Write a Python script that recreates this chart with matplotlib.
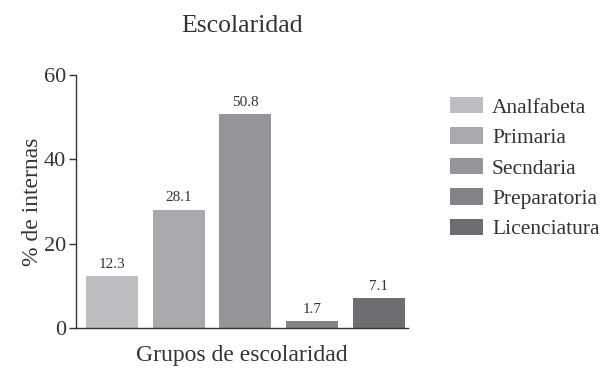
import matplotlib.pyplot as plt
from matplotlib.patches import Patch

# niveles de escolaridad y porcentaje de internas
niveles = ['Analfabeta', 'Primaria', 'Secndaria', 'Preparatoria', 'Licenciatura']
porcentajes = [12.3, 28.1, 50.8, 1.7, 7.1]
colores = ['#bdbec1', '#a8a9ac', '#949598', '#828386', '#6d6e71']
yticks = [0, 20, 40, 60]

plt.rcParams['font.family'] = ['Liberation Serif', 'DejaVu Serif']

fig = plt.figure(figsize=(6, 3.7), dpi=100)
ax = fig.add_axes([76/600, 1 - 328/370, (408-76)/600, (328-75)/370])

x = list(range(len(niveles)))
bars = ax.bar(x, porcentajes, width=0.78, color=colores)

for b, v in zip(bars, porcentajes):
    ax.text(b.get_x() + b.get_width()/2, v + 1.2, str(v),
            ha='center', va='bottom', fontsize=11, color='#333333')

ax.set_xlim(-0.54, 4.44)
ax.set_ylim(0, 60)
ax.set_yticks(yticks)
ax.set_xticks([])
ax.tick_params(axis='y', labelsize=16, length=5, width=1, color='#333333', labelcolor='#333333', pad=2)
for s in ['top', 'right']:
    ax.spines[s].set_visible(False)
for s in ['left', 'bottom']:
    ax.spines[s].set_color('#333333')
    ax.spines[s].set_linewidth(1)

ax.set_ylabel('% de internas', fontsize=17, color='#333333', labelpad=1)
ax.set_xlabel('Grupos de escolaridad', fontsize=17, color='#333333', labelpad=12)
fig.text(242/600, 1 - 26/370, 'Escolaridad', fontsize=18.5, color='#333333',
         ha='center', va='center')

handles = [Patch(facecolor=c, edgecolor='none') for c in colores]
fig.legend(handles, niveles, loc='upper left', bbox_to_anchor=(450/600, 1 - 97/370),
           frameon=False, fontsize=15.5, borderpad=0, borderaxespad=0,
           handlelength=1.53, handleheight=0.8,
           handletextpad=0.42, labelspacing=0.45, labelcolor='#333333')

fig.savefig('out.png', dpi=100)
